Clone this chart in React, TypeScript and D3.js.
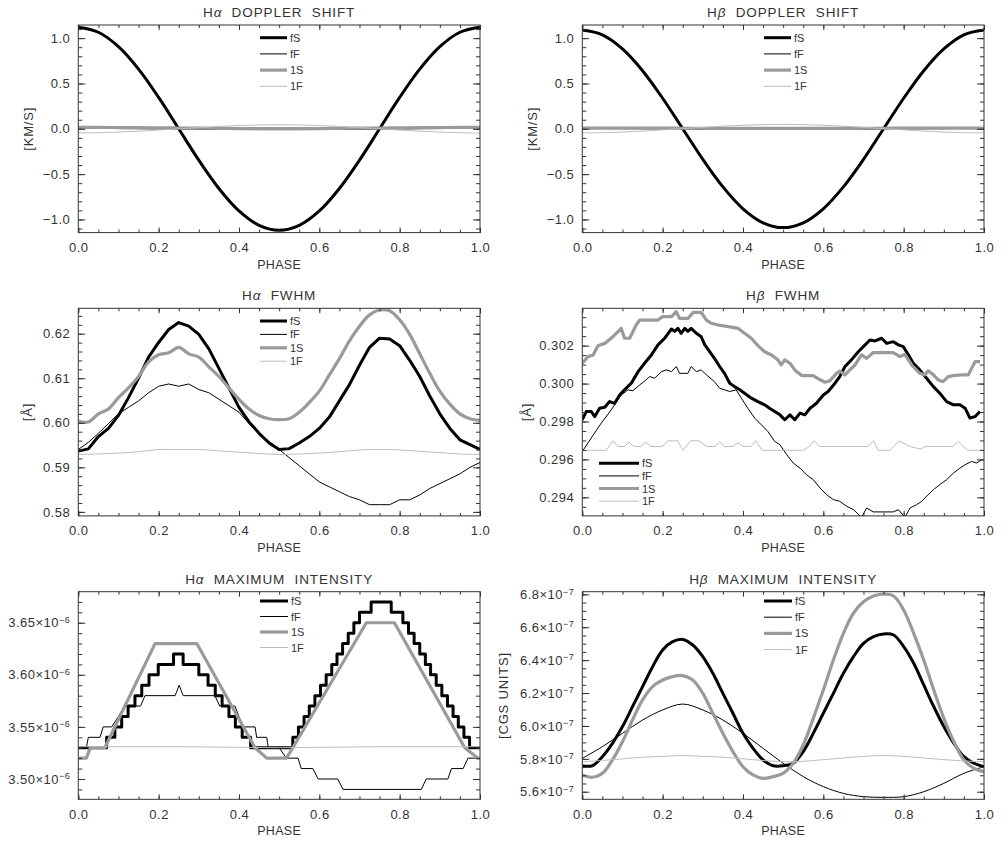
import React, { useEffect, useRef } from 'react';
import * as d3 from 'd3';

type Pt = [number, number];

const grid20 = d3.range(21).map(i => i / 20);
const grid40 = d3.range(41).map(i => i / 40);
const onGrid = (grid: number[], values: number[]): Pt[] => values.map((v, i) => [grid[i], v]);

// H-alpha Doppler shift [km/s], every 0.05 in phase
const haDopFS = [1.12, 1.065, 0.906, 0.658, 0.346, 0.0, -0.346, -0.658, -0.906, -1.065, -1.12, -1.065, -0.906, -0.658, -0.346, 0.0, 0.346, 0.658, 0.906, 1.065, 1.12];
const haDopFF = [0.004, 0.004, 0.003, 0.001, -0.001, -0.003, -0.005, -0.007, -0.008, -0.009, -0.009, -0.009, -0.008, -0.007, -0.005, -0.003, -0.001, 0.001, 0.003, 0.004, 0.004];
const haDop1S = [0.015, 0.015, 0.014, 0.013, 0.011, 0.009, 0.007, 0.005, 0.003, 0.002, 0.002, 0.002, 0.003, 0.005, 0.007, 0.009, 0.011, 0.013, 0.014, 0.015, 0.015];
const haDop1F = [-0.045, -0.043, -0.036, -0.026, -0.014, 0.0, 0.014, 0.026, 0.036, 0.043, 0.045, 0.043, 0.036, 0.026, 0.014, 0.0, -0.014, -0.026, -0.036, -0.043, -0.048];

// H-beta Doppler shift [km/s]
const hbDopFS = [1.09, 1.037, 0.882, 0.641, 0.337, 0.0, -0.337, -0.641, -0.882, -1.037, -1.09, -1.037, -0.882, -0.641, -0.337, 0.0, 0.337, 0.641, 0.882, 1.037, 1.09];
const hbDopFF = [0.003, 0.003, 0.002, 0.001, 0.0, -0.002, -0.003, -0.004, -0.005, -0.006, -0.006, -0.006, -0.005, -0.004, -0.003, -0.002, 0.0, 0.001, 0.002, 0.003, 0.003];
const hbDop1S = [0.008, 0.008, 0.008, 0.007, 0.007, 0.006, 0.006, 0.005, 0.005, 0.005, 0.005, 0.005, 0.005, 0.005, 0.006, 0.006, 0.007, 0.007, 0.008, 0.008, 0.008];
const hbDop1F = [-0.045, -0.043, -0.036, -0.025, -0.012, 0.002, 0.016, 0.029, 0.039, 0.046, 0.048, 0.046, 0.039, 0.029, 0.016, 0.002, -0.012, -0.025, -0.036, -0.043, -0.045];

// H-alpha FWHM [A], every 0.025 (1F every 0.05)
const haFwhmFS = [0.59364, 0.59414, 0.59691, 0.59873, 0.60165, 0.60565, 0.61002, 0.61476, 0.61803, 0.62095, 0.6225, 0.62168, 0.61985, 0.61658, 0.61221, 0.60784, 0.60347, 0.60019, 0.59764, 0.59546, 0.594, 0.5942, 0.59546, 0.59691, 0.59873, 0.60128, 0.60492, 0.60857, 0.61293, 0.61694, 0.619, 0.6188, 0.6173, 0.61403, 0.61039, 0.60602, 0.60201, 0.59873, 0.59618, 0.59509, 0.594];
const haFwhmFF = [0.594, 0.5956, 0.59764, 0.59983, 0.60201, 0.60347, 0.60492, 0.60674, 0.6082, 0.60871, 0.6082, 0.60871, 0.60747, 0.60674, 0.60529, 0.60383, 0.60237, 0.59983, 0.59764, 0.59582, 0.594, 0.59218, 0.59036, 0.58854, 0.58672, 0.58562, 0.58453, 0.58344, 0.58271, 0.58162, 0.58162, 0.58162, 0.58271, 0.58271, 0.5838, 0.58526, 0.58635, 0.58744, 0.58854, 0.59, 0.59109];
const haFwhm1S = [0.60041, 0.60019, 0.602, 0.6031, 0.60565, 0.60784, 0.61039, 0.61366, 0.61527, 0.6157, 0.61694, 0.61548, 0.61476, 0.61257, 0.61039, 0.60784, 0.60529, 0.6031, 0.60165, 0.60092, 0.6007, 0.60092, 0.60237, 0.60456, 0.60711, 0.61075, 0.61439, 0.6184, 0.62168, 0.62422, 0.62532, 0.62517, 0.62313, 0.61985, 0.61548, 0.61111, 0.60711, 0.6042, 0.602, 0.60092, 0.60055];
const haFwhm1F = [0.5929, 0.593, 0.5932, 0.5935, 0.594, 0.594, 0.594, 0.5937, 0.5934, 0.5931, 0.5929, 0.593, 0.5932, 0.5935, 0.5939, 0.594, 0.5939, 0.5936, 0.5933, 0.593, 0.5929];

// H-beta FWHM [A], (phase, value)
const hbFwhmFS: Pt[] = [[0, 0.29809], [0.01, 0.29853], [0.022, 0.29853], [0.031, 0.29826], [0.043, 0.2987], [0.056, 0.29875], [0.068, 0.29905], [0.08, 0.29895], [0.093, 0.2994], [0.105, 0.29967], [0.122, 0.30002], [0.139, 0.30063], [0.155, 0.30107], [0.172, 0.30151], [0.188, 0.30203], [0.205, 0.30239], [0.222, 0.30288], [0.23, 0.30275], [0.238, 0.30291], [0.246, 0.30265], [0.255, 0.30291], [0.263, 0.30275], [0.271, 0.30291], [0.284, 0.30265], [0.296, 0.30247], [0.305, 0.30204], [0.317, 0.30168], [0.329, 0.30133], [0.342, 0.3009], [0.354, 0.30054], [0.367, 0.30002], [0.379, 0.29984], [0.392, 0.29967], [0.404, 0.29949], [0.421, 0.29923], [0.437, 0.29905], [0.454, 0.29888], [0.466, 0.2987], [0.479, 0.29853], [0.492, 0.29835], [0.504, 0.29809], [0.517, 0.29835], [0.529, 0.29809], [0.542, 0.29844], [0.554, 0.29835], [0.567, 0.2987], [0.583, 0.29896], [0.6, 0.2994], [0.612, 0.29958], [0.629, 0.30002], [0.641, 0.30037], [0.654, 0.3009], [0.67, 0.30125], [0.687, 0.30168], [0.704, 0.30204], [0.716, 0.3023], [0.729, 0.30225], [0.745, 0.30239], [0.758, 0.30212], [0.774, 0.30221], [0.787, 0.30204], [0.799, 0.30195], [0.812, 0.30151], [0.824, 0.30107], [0.84, 0.30072], [0.857, 0.30028], [0.874, 0.29984], [0.89, 0.29949], [0.907, 0.29905], [0.924, 0.29888], [0.94, 0.29888], [0.953, 0.2987], [0.965, 0.29818], [0.978, 0.29826], [0.99, 0.29853]];
const hbFwhmFF: Pt[] = [[0, 0.29642], [0.022, 0.29712], [0.047, 0.29791], [0.072, 0.29861], [0.097, 0.2994], [0.114, 0.29967], [0.126, 0.29962], [0.143, 0.29993], [0.159, 0.3002], [0.168, 0.30037], [0.18, 0.30028], [0.197, 0.30063], [0.209, 0.30072], [0.222, 0.30063], [0.234, 0.3009], [0.242, 0.30054], [0.263, 0.30054], [0.271, 0.3009], [0.284, 0.30063], [0.296, 0.30072], [0.309, 0.30046], [0.329, 0.3001], [0.342, 0.29975], [0.354, 0.29967], [0.367, 0.29958], [0.383, 0.29967], [0.396, 0.29923], [0.412, 0.2987], [0.429, 0.29818], [0.446, 0.29782], [0.462, 0.29747], [0.479, 0.29695], [0.492, 0.29677], [0.509, 0.29625], [0.525, 0.29581], [0.542, 0.29554], [0.558, 0.29519], [0.575, 0.29493], [0.592, 0.29449], [0.608, 0.29414], [0.625, 0.29388], [0.641, 0.29379], [0.658, 0.29353], [0.675, 0.29335], [0.695, 0.29295], [0.708, 0.29344], [0.724, 0.29323], [0.774, 0.29323], [0.787, 0.29335], [0.803, 0.29295], [0.816, 0.29344], [0.832, 0.29361], [0.845, 0.29379], [0.861, 0.29414], [0.874, 0.2944], [0.89, 0.29467], [0.907, 0.29493], [0.924, 0.29528], [0.94, 0.29554], [0.953, 0.29572], [0.969, 0.29589], [0.982, 0.29581], [0.994, 0.29598]];
const hbFwhm1S: Pt[] = [[0, 0.30107], [0.014, 0.30142], [0.027, 0.30151], [0.039, 0.302], [0.056, 0.30212], [0.072, 0.30239], [0.089, 0.30274], [0.097, 0.30291], [0.105, 0.30239], [0.118, 0.30239], [0.134, 0.30309], [0.143, 0.30335], [0.188, 0.30335], [0.2, 0.30353], [0.222, 0.30353], [0.234, 0.30379], [0.242, 0.30344], [0.263, 0.30344], [0.276, 0.30375], [0.296, 0.30375], [0.309, 0.30335], [0.321, 0.30318], [0.338, 0.30309], [0.363, 0.303], [0.388, 0.30291], [0.404, 0.30265], [0.421, 0.30239], [0.437, 0.302], [0.454, 0.30168], [0.471, 0.30151], [0.487, 0.30125], [0.495, 0.30098], [0.504, 0.30125], [0.517, 0.30107], [0.529, 0.30072], [0.546, 0.30042], [0.575, 0.30042], [0.592, 0.3002], [0.604, 0.30007], [0.616, 0.30014], [0.633, 0.30054], [0.641, 0.30066], [0.654, 0.30046], [0.666, 0.30072], [0.679, 0.30098], [0.695, 0.30151], [0.708, 0.30133], [0.724, 0.30163], [0.774, 0.30163], [0.791, 0.30142], [0.803, 0.30154], [0.82, 0.30098], [0.84, 0.30054], [0.853, 0.30046], [0.861, 0.30067], [0.874, 0.30046], [0.886, 0.3002], [0.898, 0.3001], [0.911, 0.30037], [0.924, 0.30042], [0.944, 0.30046], [0.961, 0.30046], [0.978, 0.30116], [0.99, 0.30116]];
const hbFwhm1F: Pt[] = [[0, 0.29648], [0.06, 0.29648], [0.076, 0.29698], [0.089, 0.29668], [0.105, 0.29668], [0.116, 0.29692], [0.128, 0.29668], [0.145, 0.29668], [0.158, 0.29692], [0.17, 0.29668], [0.2, 0.29668], [0.212, 0.29698], [0.238, 0.29698], [0.25, 0.29648], [0.27, 0.29698], [0.29, 0.29698], [0.31, 0.29668], [0.33, 0.29668], [0.342, 0.29692], [0.355, 0.29668], [0.375, 0.29668], [0.388, 0.29688], [0.4, 0.29668], [0.42, 0.29668], [0.432, 0.29698], [0.448, 0.29648], [0.55, 0.29648], [0.565, 0.29668], [0.577, 0.29698], [0.592, 0.29668], [0.71, 0.29668], [0.725, 0.29698], [0.737, 0.29648], [0.766, 0.29648], [0.789, 0.29698], [0.816, 0.29668], [0.842, 0.29655], [0.855, 0.29668], [0.922, 0.29668], [0.936, 0.29695], [0.958, 0.29648], [1.0, 0.29648]];

// H-alpha maximum intensity [1e-6 cgs], (phase, level)
const haIntFS: Pt[] = [[0, 3.53], [0.0705, 3.54], [0.091, 3.55], [0.108, 3.56], [0.124, 3.57], [0.141, 3.58], [0.158, 3.59], [0.176, 3.6], [0.199, 3.61], [0.237, 3.62], [0.261, 3.61], [0.3, 3.6], [0.323, 3.59], [0.341, 3.58], [0.358, 3.57], [0.375, 3.56], [0.391, 3.55], [0.408, 3.54], [0.429, 3.53], [0.534, 3.54], [0.548, 3.55], [0.562, 3.56], [0.575, 3.57], [0.589, 3.58], [0.603, 3.59], [0.617, 3.6], [0.631, 3.61], [0.644, 3.62], [0.658, 3.63], [0.672, 3.64], [0.686, 3.65], [0.7, 3.66], [0.729, 3.67], [0.779, 3.66], [0.808, 3.65], [0.822, 3.64], [0.836, 3.63], [0.85, 3.62], [0.864, 3.61], [0.877, 3.6], [0.891, 3.59], [0.905, 3.58], [0.919, 3.57], [0.933, 3.56], [0.946, 3.55], [0.96, 3.54], [0.974, 3.53], [1.0, 3.53]];
const haIntFF: Pt[] = [[0, 3.53], [0.02, 3.53], [0.025, 3.54], [0.054, 3.54], [0.062, 3.55], [0.083, 3.55], [0.1, 3.56], [0.115, 3.57], [0.155, 3.57], [0.166, 3.58], [0.241, 3.58], [0.251, 3.59], [0.261, 3.58], [0.34, 3.58], [0.352, 3.57], [0.39, 3.57], [0.4, 3.56], [0.411, 3.55], [0.44, 3.55], [0.444, 3.54], [0.469, 3.54], [0.473, 3.53], [0.5, 3.53], [0.518, 3.52], [0.547, 3.52], [0.555, 3.51], [0.584, 3.51], [0.597, 3.5], [0.646, 3.5], [0.659, 3.49], [0.854, 3.49], [0.866, 3.5], [0.92, 3.5], [0.929, 3.51], [0.958, 3.51], [0.97, 3.52], [1.0, 3.52]];
const haInt1S: Pt[] = [[0, 3.52], [0.02, 3.52], [0.03, 3.53], [0.066, 3.53], [0.191, 3.63], [0.295, 3.63], [0.44, 3.53], [0.469, 3.52], [0.518, 3.52], [0.534, 3.53], [0.717, 3.65], [0.787, 3.65], [0.962, 3.53], [0.995, 3.52], [1.0, 3.52]];
const haInt1F: Pt[] = [[0, 3.531], [0.25, 3.531], [0.5, 3.53], [0.75, 3.531], [1.0, 3.531]];

// H-beta maximum intensity [1e-7 cgs], every 0.025 (fF, 1F every 0.05)
const hbIntFS = [5.758, 5.758, 5.813, 5.894, 5.996, 6.117, 6.239, 6.36, 6.462, 6.512, 6.526, 6.492, 6.421, 6.32, 6.198, 6.077, 5.955, 5.864, 5.793, 5.758, 5.758, 5.773, 5.844, 5.955, 6.077, 6.198, 6.32, 6.421, 6.502, 6.543, 6.559, 6.553, 6.482, 6.381, 6.249, 6.117, 5.996, 5.894, 5.813, 5.773, 5.752];
const hbIntFF = [5.803, 5.874, 5.955, 6.036, 6.097, 6.133, 6.097, 6.036, 5.955, 5.864, 5.773, 5.692, 5.631, 5.59, 5.57, 5.566, 5.57, 5.6, 5.651, 5.712, 5.752];
const hbInt1S = [5.702, 5.688, 5.712, 5.793, 5.904, 6.036, 6.158, 6.239, 6.279, 6.3, 6.306, 6.279, 6.198, 6.077, 5.955, 5.844, 5.752, 5.702, 5.681, 5.692, 5.712, 5.773, 5.884, 6.046, 6.218, 6.401, 6.563, 6.685, 6.755, 6.79, 6.802, 6.79, 6.705, 6.563, 6.401, 6.218, 6.046, 5.904, 5.793, 5.742, 5.722];
const hbInt1F = [5.783, 5.79, 5.8, 5.81, 5.815, 5.82, 5.815, 5.81, 5.8, 5.79, 5.783, 5.785, 5.795, 5.805, 5.815, 5.82, 5.815, 5.805, 5.795, 5.787, 5.783];

const seriesKeys = ['fS', 'fF', '1S', '1F'];
const phaseTicks = [0, 0.2, 0.4, 0.6, 0.8, 1.0];

const lineStyle: Record<string, { color: string; width: number }> = {
  fS: { color: '#000', width: 3 },
  fF: { color: '#000', width: 1 },
  '1S': { color: '#9a9a9a', width: 3.2 },
  '1F': { color: '#bdbdbd', width: 1 },
};

const FONT = '"Liberation Sans", Arial, Helvetica, sans-serif';
const TXT = '#333';
const PW = 401.7;
const PH = 207.6;
const COLS = [78.3, 582.3];
const ROWS = [25, 308.3, 591.7];

const smooth = d3.curveCatmullRom.alpha(0.5);

const panels = [
  {
    id: 'haDop', col: 0, row: 0, greek: 'α', title: 'DOPPLER  SHIFT',
    domain: [-1.145, 1.145], major: [-1, -0.5, 0, 0.5, 1], minor: 0.1, fmt: d3.format('.1f'), exp: '',
    ylabel: '[KM/S]', ylabelX: 28, legend: { x: 181.7, y: 12.7, dy: 16.2, len: 27 },
    series: {
      fS: { pts: onGrid(grid20, haDopFS), curve: smooth },
      fF: { pts: onGrid(grid20, haDopFF), curve: smooth },
      '1S': { pts: onGrid(grid20, haDop1S), curve: smooth },
      '1F': { pts: onGrid(grid20, haDop1F), curve: smooth },
    },
  },
  {
    id: 'hbDop', col: 1, row: 0, greek: 'β', title: 'DOPPLER  SHIFT',
    domain: [-1.145, 1.145], major: [-1, -0.5, 0, 0.5, 1], minor: 0.1, fmt: d3.format('.1f'), exp: '',
    ylabel: '[KM/S]', ylabelX: 532, legend: { x: 181.7, y: 12.7, dy: 16.2, len: 27 },
    series: {
      fS: { pts: onGrid(grid20, hbDopFS), curve: smooth },
      fF: { pts: onGrid(grid20, hbDopFF), curve: smooth },
      '1S': { pts: onGrid(grid20, hbDop1S), curve: smooth },
      '1F': { pts: onGrid(grid20, hbDop1F), curve: smooth },
    },
  },
  {
    id: 'haFwhm', col: 0, row: 1, greek: 'α', title: 'FWHM',
    domain: [0.5791, 0.6257], major: [0.58, 0.59, 0.6, 0.61, 0.62], minor: 0.002, fmt: d3.format('.2f'), exp: '',
    ylabel: '[Å]', ylabelX: 27, legend: { x: 181.7, y: 12.7, dy: 13.4, len: 27 },
    series: {
      fS: { pts: onGrid(grid40, haFwhmFS), curve: d3.curveLinear },
      fF: { pts: onGrid(grid40, haFwhmFF), curve: d3.curveLinear },
      '1S': { pts: onGrid(grid40, haFwhm1S), curve: smooth },
      '1F': { pts: onGrid(grid20, haFwhm1F), curve: smooth },
    },
  },
  {
    id: 'hbFwhm', col: 1, row: 1, greek: 'β', title: 'FWHM',
    domain: [0.29302, 0.30397], major: [0.294, 0.296, 0.298, 0.3, 0.302], minor: 0.0005, fmt: d3.format('.3f'), exp: '',
    ylabel: '[Å]', ylabelX: 526, legend: { x: 16.7, y: 155, dy: 12.6, len: 40 },
    series: {
      fS: { pts: hbFwhmFS, curve: d3.curveLinear },
      fF: { pts: hbFwhmFF, curve: d3.curveLinear },
      '1S': { pts: hbFwhm1S, curve: d3.curveLinear },
      '1F': { pts: hbFwhm1F, curve: d3.curveLinear },
    },
  },
  {
    id: 'haInt', col: 0, row: 2, greek: 'α', title: 'MAXIMUM  INTENSITY',
    domain: [3.4805, 3.6798], major: [3.5, 3.55, 3.6, 3.65], minor: 0.01, fmt: d3.format('.2f'), exp: '−6',
    ylabel: '[CGS UNITS]', ylabelX: -8, legend: { x: 181.7, y: 9.3, dy: 15.5, len: 28 },
    series: {
      fS: { pts: haIntFS, curve: d3.curveStepAfter },
      fF: { pts: haIntFF, curve: d3.curveLinear },
      '1S': { pts: haInt1S, curve: d3.curveLinear },
      '1F': { pts: haInt1F, curve: d3.curveLinear },
    },
  },
  {
    id: 'hbInt', col: 1, row: 2, greek: 'β', title: 'MAXIMUM  INTENSITY',
    domain: [5.554, 6.816], major: [5.6, 5.8, 6.0, 6.2, 6.4, 6.6, 6.8], minor: 0.05, fmt: d3.format('.1f'), exp: '−7',
    ylabel: '[CGS UNITS]', ylabelX: 503, legend: { x: 181.7, y: 9.3, dy: 16.2, len: 28 },
    series: {
      fS: { pts: onGrid(grid40, hbIntFS), curve: smooth },
      fF: { pts: onGrid(grid20, hbIntFF), curve: smooth },
      '1S': { pts: onGrid(grid40, hbInt1S), curve: smooth },
      '1F': { pts: onGrid(grid20, hbInt1F), curve: smooth },
    },
  },
];

type Panel = typeof panels[number];

const minorValues = (lo: number, hi: number, step: number) =>
  d3.range(Math.ceil(lo / step - 1e-6), Math.floor(hi / step + 1e-6) + 1).map(k => +(k * step).toFixed(6));

function drawPanel(svg: d3.Selection<SVGSVGElement, unknown, null, undefined>, p: Panel) {
  const left = COLS[p.col];
  const top = ROWS[p.row];
  const x = d3.scaleLinear().domain([0, 1]).range([left, left + PW]);
  const y = d3.scaleLinear().domain(p.domain).range([top + PH, top]);
  const g = svg.append('g').attr('font-family', FONT).attr('fill', TXT);

  const clipId = 'clip-' + p.id;
  g.append('clipPath').attr('id', clipId)
    .append('rect').attr('x', left).attr('y', top).attr('width', PW).attr('height', PH);

  const plot = g.append('g').attr('clip-path', `url(#${clipId})`);
  seriesKeys.forEach(k => {
    const s = (p.series as any)[k];
    const line = d3.line<Pt>().x(d => x(d[0])).y(d => y(d[1])).curve(s.curve);
    plot.append('path')
      .attr('d', line(s.pts))
      .attr('fill', 'none')
      .attr('stroke', lineStyle[k].color)
      .attr('stroke-width', lineStyle[k].width)
      .attr('stroke-linejoin', 'round');
  });

  // axes: ticks point inward on all four sides
  const xMinor = minorValues(0, 1, 0.05);
  const yMinor = minorValues(p.domain[0], p.domain[1], p.minor);
  const styleAxis = (a: d3.Selection<SVGGElement, unknown, null, undefined>) => {
    a.attr('font-family', FONT).attr('font-size', 13).attr('color', '#333');
    a.select('.domain').remove();
  };

  g.append('g').attr('transform', `translate(0,${top + PH})`)
    .call(d3.axisBottom(x).tickValues(phaseTicks).tickSize(-5).tickPadding(10).tickFormat(d3.format('.1f')))
    .call(styleAxis)
    .selectAll('text').attr('letter-spacing', 0.5);
  g.append('g').attr('transform', `translate(0,${top + PH})`)
    .call(d3.axisBottom(x).tickValues(xMinor).tickSize(-3).tickFormat(() => ''))
    .call(styleAxis);
  g.append('g').attr('transform', `translate(0,${top})`)
    .call(d3.axisTop(x).tickValues(phaseTicks).tickSize(-5).tickFormat(() => ''))
    .call(styleAxis);
  g.append('g').attr('transform', `translate(0,${top})`)
    .call(d3.axisTop(x).tickValues(xMinor).tickSize(-3).tickFormat(() => ''))
    .call(styleAxis);

  const yAxis = g.append('g').attr('transform', `translate(${left},0)`)
    .call(d3.axisLeft(y).tickValues(p.major).tickSize(-7).tickPadding(8).tickFormat(d => p.fmt(d as number)))
    .call(styleAxis);
  yAxis.selectAll('text').attr('letter-spacing', 0.5);
  if (p.exp) {
    yAxis.selectAll<SVGTextElement, number>('.tick text').each(function (d) {
      const t = d3.select(this);
      t.text('');
      t.append('tspan').text(p.fmt(d) + '×10');
      t.append('tspan').attr('dy', '-0.5em').attr('font-size', 9).text(p.exp);
    });
  }
  g.append('g').attr('transform', `translate(${left},0)`)
    .call(d3.axisLeft(y).tickValues(yMinor).tickSize(-4).tickFormat(() => ''))
    .call(styleAxis);
  g.append('g').attr('transform', `translate(${left + PW},0)`)
    .call(d3.axisRight(y).tickValues(p.major).tickSize(-7).tickFormat(() => ''))
    .call(styleAxis);
  g.append('g').attr('transform', `translate(${left + PW},0)`)
    .call(d3.axisRight(y).tickValues(yMinor).tickSize(-4).tickFormat(() => ''))
    .call(styleAxis);

  g.append('rect')
    .attr('x', left).attr('y', top).attr('width', PW).attr('height', PH)
    .attr('fill', 'none').attr('stroke', '#333').attr('stroke-width', 1);

  // title
  const title = g.append('text')
    .attr('x', left + PW / 2).attr('y', top - 8)
    .attr('text-anchor', 'middle').attr('font-size', 13.5).attr('letter-spacing', 0.9)
    .style('white-space', 'pre');
  title.append('tspan').text('H');
  title.append('tspan').attr('font-style', 'italic').text(p.greek);
  title.append('tspan').text('  ' + p.title);

  // x label
  g.append('text')
    .attr('x', left + PW / 2).attr('y', top + PH + 36)
    .attr('text-anchor', 'middle').attr('font-size', 12.5).attr('letter-spacing', 0.3)
    .text('PHASE');

  // y label
  g.append('text')
    .attr('transform', `translate(${p.ylabelX},${top + PH / 2}) rotate(-90)`)
    .attr('dy', '0.36em')
    .attr('text-anchor', 'middle').attr('font-size', 13).attr('letter-spacing', 0.8)
    .text(p.ylabel);

  // legend
  seriesKeys.forEach((k, i) => {
    const yy = top + p.legend.y + i * p.legend.dy;
    g.append('line')
      .attr('x1', left + p.legend.x).attr('x2', left + p.legend.x + p.legend.len)
      .attr('y1', yy).attr('y2', yy)
      .attr('stroke', lineStyle[k].color).attr('stroke-width', lineStyle[k].width);
    g.append('text')
      .attr('x', left + p.legend.x + p.legend.len + 3).attr('y', yy + 4)
      .attr('font-size', 11)
      .text(k);
  });
}

const App = () => {
  const svgRef = useRef<SVGSVGElement>(null);

  useEffect(() => {
    const svg = d3.select(svgRef.current as SVGSVGElement);
    svg.selectAll('*').remove();
    panels.forEach(p => drawPanel(svg, p));
  }, []);

  return (
    <svg
      ref={svgRef}
      width={1008}
      height={850}
      style={{ position: 'absolute', left: 0, top: 0, background: '#fff' }}
    />
  );
};

export default App;
